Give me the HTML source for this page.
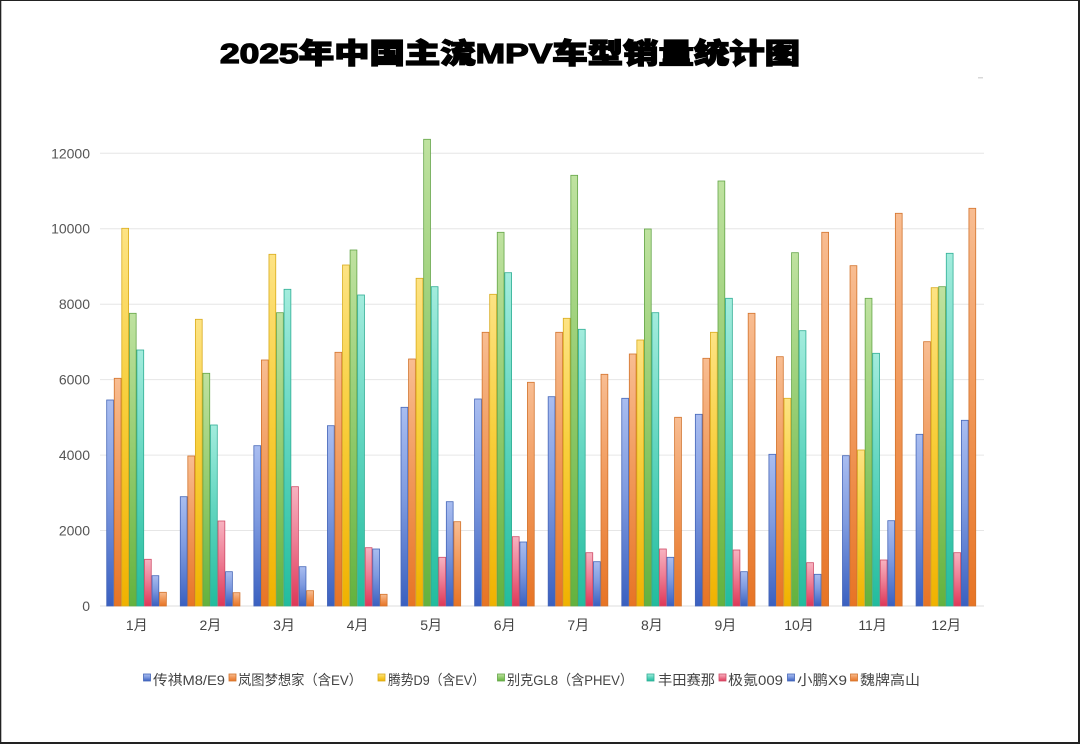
<!DOCTYPE html>
<html>
<head>
<meta charset="utf-8">
<style>
html,body{margin:0;padding:0;background:#fff;}
body{width:1080px;height:744px;overflow:hidden;}
svg{display:block;}
.yl{font-family:"Liberation Sans","Noto Sans CJK SC",sans-serif;font-size:14px;fill:#555;text-anchor:end;}
.xl{font-family:"Liberation Sans","Noto Sans CJK SC",sans-serif;font-size:14px;fill:#444;text-anchor:middle;}
.lg{font-family:"Liberation Sans","Noto Sans CJK SC",sans-serif;font-size:14px;fill:#444;}
.b0{fill:url(#gBlue);stroke:#4566b8;stroke-width:0.8;}
.b1{fill:url(#gOrange);stroke:#d2732c;stroke-width:0.8;}
.b2{fill:url(#gYellow);stroke:#d9ab1c;stroke-width:0.8;}
.b3{fill:url(#gGreen);stroke:#64a548;stroke-width:0.8;}
.b4{fill:url(#gTeal);stroke:#2fae95;stroke-width:0.8;}
.b5{fill:url(#gPink);stroke:#cf4d68;stroke-width:0.8;}
.b6{fill:url(#gBlue);stroke:#4566b8;stroke-width:0.8;}
.b7{fill:url(#gOrange);stroke:#d2732c;stroke-width:0.8;}
</style>
</head>
<body>
<svg width="1080" height="744" viewBox="0 0 1080 744" xmlns="http://www.w3.org/2000/svg">
<defs>
<linearGradient id="gBlue" x1="0" y1="0" x2="0" y2="1"><stop offset="0" stop-color="#a9bdf0"/><stop offset="0.45" stop-color="#7f9be0"/><stop offset="1" stop-color="#3a60c0"/></linearGradient>
<linearGradient id="gOrange" x1="0" y1="0" x2="0" y2="1"><stop offset="0" stop-color="#f8bd92"/><stop offset="0.45" stop-color="#f19a5c"/><stop offset="1" stop-color="#e77425"/></linearGradient>
<linearGradient id="gYellow" x1="0" y1="0" x2="0" y2="1"><stop offset="0" stop-color="#fde384"/><stop offset="0.45" stop-color="#f8cf3c"/><stop offset="1" stop-color="#f0b200"/></linearGradient>
<linearGradient id="gGreen" x1="0" y1="0" x2="0" y2="1"><stop offset="0" stop-color="#bfe2a0"/><stop offset="0.45" stop-color="#96cd72"/><stop offset="1" stop-color="#63b23e"/></linearGradient>
<linearGradient id="gTeal" x1="0" y1="0" x2="0" y2="1"><stop offset="0" stop-color="#a3ecdd"/><stop offset="0.45" stop-color="#62d6c0"/><stop offset="1" stop-color="#22bc9e"/></linearGradient>
<linearGradient id="gPink" x1="0" y1="0" x2="0" y2="1"><stop offset="0" stop-color="#f8b2c0"/><stop offset="0.45" stop-color="#ee7f96"/><stop offset="1" stop-color="#de3858"/></linearGradient>
</defs>
<rect x="0" y="0" width="1080" height="744" fill="#fff"/>

<!-- title -->
<text x="220" y="63" textLength="580" lengthAdjust="spacingAndGlyphs" style="font-family:'Liberation Sans','Noto Sans CJK SC',sans-serif;font-size:28px;font-weight:900;" fill="#000" stroke="#000" stroke-width="1.3">2025年中国主流MPV车型销量统计图</text>
<rect x="978" y="77" width="5" height="1.5" fill="#d8d8d8"/>

<!-- grid -->
<g stroke="#e6e6e6" stroke-width="1">
<line x1="100" y1="153.3" x2="984" y2="153.3"/>
<line x1="100" y1="228.75" x2="984" y2="228.75"/>
<line x1="100" y1="304.2" x2="984" y2="304.2"/>
<line x1="100" y1="379.65" x2="984" y2="379.65"/>
<line x1="100" y1="455.1" x2="984" y2="455.1"/>
<line x1="100" y1="530.55" x2="984" y2="530.55"/>
</g>
<line x1="100" y1="606" x2="984" y2="606" stroke="#dcdcdc" stroke-width="1"/>

<!-- y labels -->
<text class="yl" x="90" y="611">0</text>
<text class="yl" x="90" y="535.5">2000</text>
<text class="yl" x="90" y="460">4000</text>
<text class="yl" x="90" y="384.6">6000</text>
<text class="yl" x="90" y="309.2">8000</text>
<text class="yl" x="90" y="233.7">10000</text>
<text class="yl" x="90" y="158.3">12000</text>

<!-- bars -->
<g transform="translate(106.7,0)">
<rect class="b0" x="0" y="400" width="6.8" height="206"/>
<rect class="b1" x="7.55" y="378.3" width="6.8" height="227.7"/>
<rect class="b2" x="15.1" y="228.3" width="6.8" height="377.7"/>
<rect class="b3" x="22.65" y="313.3" width="6.8" height="292.7"/>
<rect class="b4" x="30.2" y="350" width="6.8" height="256"/>
<rect class="b5" x="37.75" y="559.3" width="6.8" height="46.7"/>
<rect class="b6" x="45.3" y="575.7" width="6.8" height="30.3"/>
<rect class="b7" x="52.85" y="592.3" width="6.8" height="13.7"/>
</g>
<g transform="translate(180.28,0)">
<rect class="b0" x="0" y="496.7" width="6.8" height="109.3"/>
<rect class="b1" x="7.55" y="456" width="6.8" height="150"/>
<rect class="b2" x="15.1" y="319.3" width="6.8" height="286.7"/>
<rect class="b3" x="22.65" y="373.3" width="6.8" height="232.7"/>
<rect class="b4" x="30.2" y="425" width="6.8" height="181"/>
<rect class="b5" x="37.75" y="521" width="6.8" height="85"/>
<rect class="b6" x="45.3" y="571.7" width="6.8" height="34.3"/>
<rect class="b7" x="52.85" y="592.7" width="6.8" height="13.3"/>
</g>
<g transform="translate(253.86,0)">
<rect class="b0" x="0" y="445.7" width="6.8" height="160.3"/>
<rect class="b1" x="7.55" y="360" width="6.8" height="246"/>
<rect class="b2" x="15.1" y="254.3" width="6.8" height="351.7"/>
<rect class="b3" x="22.65" y="312.7" width="6.8" height="293.3"/>
<rect class="b4" x="30.2" y="289.3" width="6.8" height="316.7"/>
<rect class="b5" x="37.75" y="486.7" width="6.8" height="119.3"/>
<rect class="b6" x="45.3" y="566.7" width="6.8" height="39.3"/>
<rect class="b7" x="52.85" y="590.7" width="6.8" height="15.3"/>
</g>
<g transform="translate(327.44,0)">
<rect class="b0" x="0" y="425.7" width="6.8" height="180.3"/>
<rect class="b1" x="7.55" y="352.3" width="6.8" height="253.7"/>
<rect class="b2" x="15.1" y="265" width="6.8" height="341"/>
<rect class="b3" x="22.65" y="250" width="6.8" height="356"/>
<rect class="b4" x="30.2" y="295" width="6.8" height="311"/>
<rect class="b5" x="37.75" y="547.7" width="6.8" height="58.3"/>
<rect class="b6" x="45.3" y="549" width="6.8" height="57"/>
<rect class="b7" x="52.85" y="594.3" width="6.8" height="11.7"/>
</g>
<g transform="translate(401.02,0)">
<rect class="b0" x="0" y="407.3" width="6.8" height="198.7"/>
<rect class="b1" x="7.55" y="359" width="6.8" height="247"/>
<rect class="b2" x="15.1" y="278.3" width="6.8" height="327.7"/>
<rect class="b3" x="22.65" y="139.3" width="6.8" height="466.7"/>
<rect class="b4" x="30.2" y="286.7" width="6.8" height="319.3"/>
<rect class="b5" x="37.75" y="557.3" width="6.8" height="48.7"/>
<rect class="b6" x="45.3" y="501.7" width="6.8" height="104.3"/>
<rect class="b7" x="52.85" y="521.7" width="6.8" height="84.3"/>
</g>
<g transform="translate(474.6,0)">
<rect class="b0" x="0" y="399" width="6.8" height="207"/>
<rect class="b1" x="7.55" y="332.3" width="6.8" height="273.7"/>
<rect class="b2" x="15.1" y="294.3" width="6.8" height="311.7"/>
<rect class="b3" x="22.65" y="232.3" width="6.8" height="373.7"/>
<rect class="b4" x="30.2" y="272.7" width="6.8" height="333.3"/>
<rect class="b5" x="37.75" y="536.7" width="6.8" height="69.3"/>
<rect class="b6" x="45.3" y="542" width="6.8" height="64"/>
<rect class="b7" x="52.85" y="382.3" width="6.8" height="223.7"/>
</g>
<g transform="translate(548.18,0)">
<rect class="b0" x="0" y="396.7" width="6.8" height="209.3"/>
<rect class="b1" x="7.55" y="332.3" width="6.8" height="273.7"/>
<rect class="b2" x="15.1" y="318.3" width="6.8" height="287.7"/>
<rect class="b3" x="22.65" y="175.3" width="6.8" height="430.7"/>
<rect class="b4" x="30.2" y="329.3" width="6.8" height="276.7"/>
<rect class="b5" x="37.75" y="552.7" width="6.8" height="53.3"/>
<rect class="b6" x="45.3" y="561.7" width="6.8" height="44.3"/>
<rect class="b7" x="52.85" y="374.3" width="6.8" height="231.7"/>
</g>
<g transform="translate(621.76,0)">
<rect class="b0" x="0" y="398.3" width="6.8" height="207.7"/>
<rect class="b1" x="7.55" y="354" width="6.8" height="252"/>
<rect class="b2" x="15.1" y="340" width="6.8" height="266"/>
<rect class="b3" x="22.65" y="229" width="6.8" height="377"/>
<rect class="b4" x="30.2" y="312.7" width="6.8" height="293.3"/>
<rect class="b5" x="37.75" y="549" width="6.8" height="57"/>
<rect class="b6" x="45.3" y="557.3" width="6.8" height="48.7"/>
<rect class="b7" x="52.85" y="417.3" width="6.8" height="188.7"/>
</g>
<g transform="translate(695.34,0)">
<rect class="b0" x="0" y="414.3" width="6.8" height="191.7"/>
<rect class="b1" x="7.55" y="358.3" width="6.8" height="247.7"/>
<rect class="b2" x="15.1" y="332.3" width="6.8" height="273.7"/>
<rect class="b3" x="22.65" y="181" width="6.8" height="425"/>
<rect class="b4" x="30.2" y="298.3" width="6.8" height="307.7"/>
<rect class="b5" x="37.75" y="550" width="6.8" height="56"/>
<rect class="b6" x="45.3" y="571.7" width="6.8" height="34.3"/>
<rect class="b7" x="52.85" y="313.3" width="6.8" height="292.7"/>
</g>
<g transform="translate(768.92,0)">
<rect class="b0" x="0" y="454.3" width="6.8" height="151.7"/>
<rect class="b1" x="7.55" y="356.7" width="6.8" height="249.3"/>
<rect class="b2" x="15.1" y="398.3" width="6.8" height="207.7"/>
<rect class="b3" x="22.65" y="252.7" width="6.8" height="353.3"/>
<rect class="b4" x="30.2" y="330.7" width="6.8" height="275.3"/>
<rect class="b5" x="37.75" y="562.7" width="6.8" height="43.3"/>
<rect class="b6" x="45.3" y="574.3" width="6.8" height="31.7"/>
<rect class="b7" x="52.85" y="232.3" width="6.8" height="373.7"/>
</g>
<g transform="translate(842.5,0)">
<rect class="b0" x="0" y="455.7" width="6.8" height="150.3"/>
<rect class="b1" x="7.55" y="265.7" width="6.8" height="340.3"/>
<rect class="b2" x="15.1" y="450" width="6.8" height="156"/>
<rect class="b3" x="22.65" y="298.3" width="6.8" height="307.7"/>
<rect class="b4" x="30.2" y="353.3" width="6.8" height="252.7"/>
<rect class="b5" x="37.75" y="560" width="6.8" height="46"/>
<rect class="b6" x="45.3" y="520.7" width="6.8" height="85.3"/>
<rect class="b7" x="52.85" y="213.3" width="6.8" height="392.7"/>
</g>
<g transform="translate(916.08,0)">
<rect class="b0" x="0" y="434.3" width="6.8" height="171.7"/>
<rect class="b1" x="7.55" y="341.7" width="6.8" height="264.3"/>
<rect class="b2" x="15.1" y="287.7" width="6.8" height="318.3"/>
<rect class="b3" x="22.65" y="286.7" width="6.8" height="319.3"/>
<rect class="b4" x="30.2" y="253.3" width="6.8" height="352.7"/>
<rect class="b5" x="37.75" y="552.7" width="6.8" height="53.3"/>
<rect class="b6" x="45.3" y="420.3" width="6.8" height="185.7"/>
<rect class="b7" x="52.85" y="208.3" width="6.8" height="397.7"/>
</g>

<!-- x labels -->
<text class="xl" x="136.8" y="630">1月</text>
<text class="xl" x="210.4" y="630">2月</text>
<text class="xl" x="284" y="630">3月</text>
<text class="xl" x="357.5" y="630">4月</text>
<text class="xl" x="431.1" y="630">5月</text>
<text class="xl" x="504.7" y="630">6月</text>
<text class="xl" x="578.3" y="630">7月</text>
<text class="xl" x="651.9" y="630">8月</text>
<text class="xl" x="725.4" y="630">9月</text>
<text class="xl" x="799" y="630">10月</text>
<text class="xl" x="872.6" y="630">11月</text>
<text class="xl" x="946.2" y="630">12月</text>

<!-- legend -->
<rect x="143.5" y="674" width="7" height="7" fill="url(#gBlue)" stroke="#4566b8" stroke-width="0.8"/>
<text class="lg" x="153" y="685" textLength="72" lengthAdjust="spacingAndGlyphs">传祺M8/E9</text>
<rect x="229" y="674" width="7" height="7" fill="url(#gOrange)" stroke="#d2732c" stroke-width="0.8"/>
<text class="lg" x="238" y="685" textLength="124" lengthAdjust="spacingAndGlyphs">岚图梦想家（含EV）</text>
<rect x="378" y="674" width="7" height="7" fill="url(#gYellow)" stroke="#d9ab1c" stroke-width="0.8"/>
<text class="lg" x="388" y="685" textLength="97" lengthAdjust="spacingAndGlyphs">腾势D9（含EV）</text>
<rect x="497.5" y="674" width="7" height="7" fill="url(#gGreen)" stroke="#64a548" stroke-width="0.8"/>
<text class="lg" x="507" y="685" textLength="126" lengthAdjust="spacingAndGlyphs">别克GL8（含PHEV）</text>
<rect x="647" y="674" width="7" height="7" fill="url(#gTeal)" stroke="#2fae95" stroke-width="0.8"/>
<text class="lg" x="658" y="685" textLength="57" lengthAdjust="spacingAndGlyphs">丰田赛那</text>
<rect x="719" y="674" width="7" height="7" fill="url(#gPink)" stroke="#cf4d68" stroke-width="0.8"/>
<text class="lg" x="728" y="685" textLength="55" lengthAdjust="spacingAndGlyphs">极氪009</text>
<rect x="787.5" y="674" width="7" height="7" fill="url(#gBlue)" stroke="#4566b8" stroke-width="0.8"/>
<text class="lg" x="797" y="685" textLength="50" lengthAdjust="spacingAndGlyphs">小鹏X9</text>
<rect x="850.5" y="674" width="7" height="7" fill="url(#gOrange)" stroke="#d2732c" stroke-width="0.8"/>
<text class="lg" x="860" y="685" textLength="60" lengthAdjust="spacingAndGlyphs">魏牌高山</text>

<!-- frame -->
<rect x="0" y="0" width="1080" height="1" fill="#222"/>
<rect x="0" y="0" width="1.3" height="744" fill="#222"/>
<rect x="1078" y="0" width="2" height="744" fill="#222"/>
<rect x="0" y="742" width="1080" height="2" fill="#222"/>
</svg>
</body>
</html>
